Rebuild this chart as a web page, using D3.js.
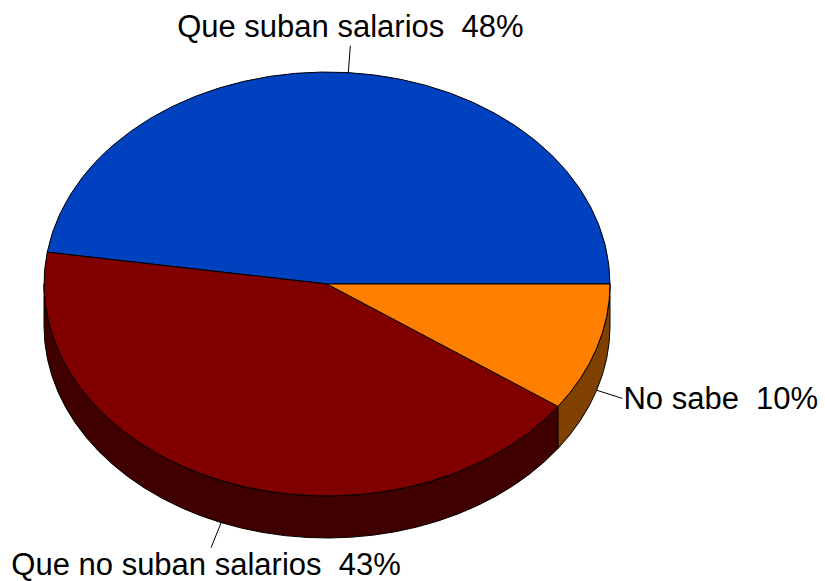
<!DOCTYPE html>
<html><head><meta charset="utf-8">
<script src="https://cdn.jsdelivr.net/npm/d3@7"></script>
<style>body{margin:0;background:#fff}svg{display:block}</style>
</head><body>
<svg id="c" width="825" height="581"></svg>
<script>
const categories = ["Que suban salarios", "Que no suban salarios", "No sabe"];
const values = [47.6, 42.6, 9.8];
const labels = ["48%", "43%", "10%"];
const topColors = ["#0041C0", "#800000", "#FF8000"];
const sideColors = ["#002060", "#400000", "#804000"];

const W = 825, H = 581;
const cx = 327, cy = 284, rx = 283, ry = 212, depth = 42;
const svg = d3.select("#c");

const pie = d3.pie().sort(null).startAngle(0).endAngle(2 * Math.PI);
const arcs = pie(values).map((d, i) => ({...d, i}));

const pt = (t, dy = 0) => [cx + rx * Math.cos(t), cy - ry * Math.sin(t) + dy];

function topPath(a0, a1) {
  const p0 = pt(a0), p1 = pt(a1);
  const large = (a1 - a0) > Math.PI ? 1 : 0;
  return `M${cx},${cy}L${p0[0]},${p0[1]}A${rx},${ry} 0 ${large} 0 ${p1[0]},${p1[1]}Z`;
}
function sidePath(a0, a1) {
  const s = Math.max(a0, Math.PI), e = Math.min(a1, 2 * Math.PI);
  if (s >= e) return null;
  const p0 = pt(s), p1 = pt(e), q1 = pt(e, depth), q0 = pt(s, depth);
  return `M${p0[0]},${p0[1]}A${rx},${ry} 0 0 0 ${p1[0]},${p1[1]}L${q1[0]},${q1[1]}A${rx},${ry} 0 0 1 ${q0[0]},${q0[1]}Z`;
}

// sides
svg.append("g").selectAll("path").data(arcs.filter(d => sidePath(d.startAngle, d.endAngle)))
  .join("path")
  .attr("d", d => sidePath(d.startAngle, d.endAngle))
  .attr("fill", d => sideColors[d.i])
  .attr("stroke", "#000").attr("stroke-width", 1).attr("stroke-linejoin", "round");

// tops
svg.append("g").selectAll("path").data(arcs).join("path")
  .attr("d", d => topPath(d.startAngle, d.endAngle))
  .attr("fill", d => topColors[d.i])
  .attr("stroke", "#000").attr("stroke-width", 1).attr("stroke-linejoin", "round");

// labels
const lg = svg.append("g");
arcs.forEach(d => {
  const m = (d.startAngle + d.endAngle) / 2;
  const front = Math.sin(m) < 0;
  const s = pt(m, front ? depth : 0);
  const dir = [Math.cos(m), -Math.sin(m)];
  const len = 27;
  const e = [s[0] + dir[0] * len, s[1] + dir[1] * len];
  lg.append("line").attr("x1", s[0]).attr("y1", s[1]).attr("x2", e[0]).attr("y2", e[1])
    .attr("stroke", "#000").attr("stroke-width", 1);
  let tx, ty, anchor;
  if (Math.abs(dir[0]) > 0.7) { // side label
    anchor = dir[0] > 0 ? "start" : "end";
    tx = e[0] + (dir[0] > 0 ? 1 : -1); ty = e[1] + 11;
  } else if (dir[1] < 0) { // top
    anchor = "middle"; tx = e[0]; ty = e[1] - 9;
  } else { // bottom
    anchor = "middle"; tx = e[0] - 5; ty = e[1] + 27;
  }
  lg.append("text").attr("x", tx).attr("y", ty).attr("text-anchor", anchor)
    .attr("font-family", "Liberation Sans, Arial, sans-serif").attr("font-size", 31)
    .attr("fill", "#000").attr("xml:space", "preserve").style("white-space", "pre")
    .text(categories[d.i] + "  " + labels[d.i]);
});
</script>
</body></html>
